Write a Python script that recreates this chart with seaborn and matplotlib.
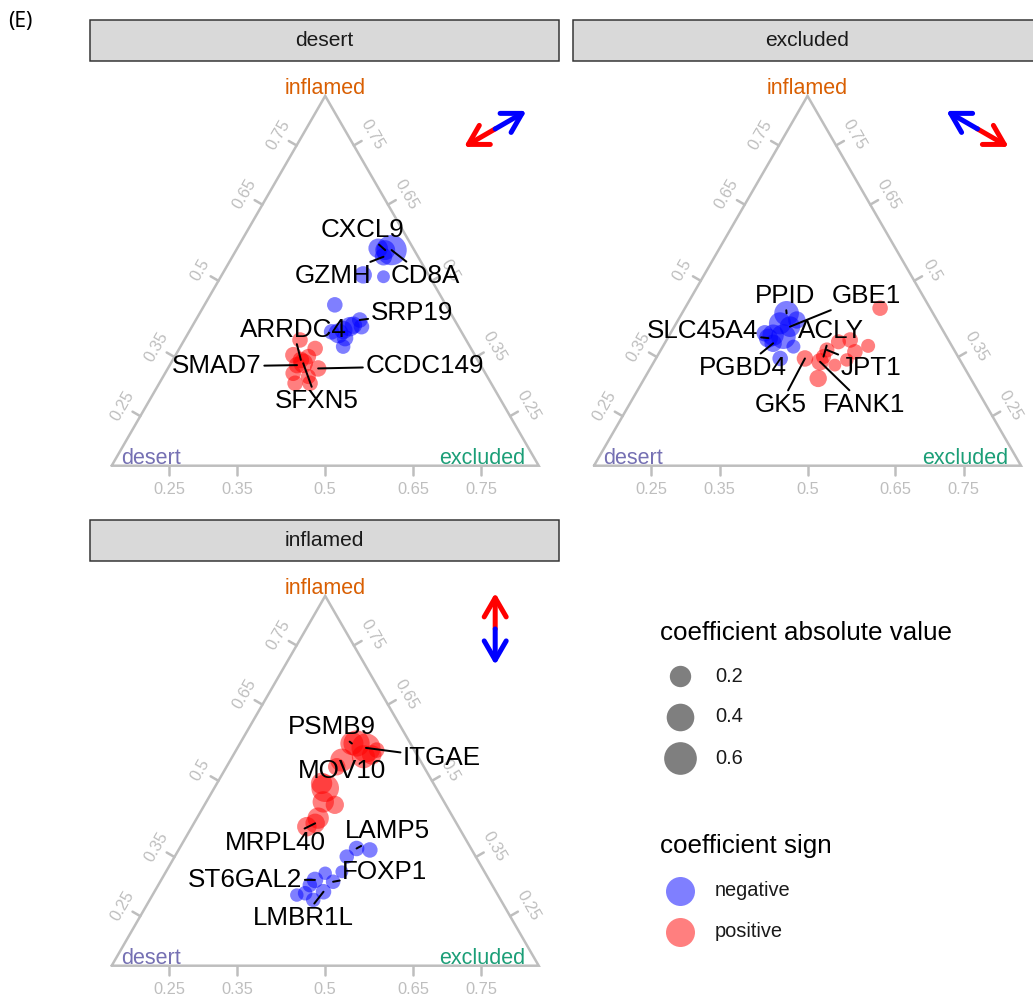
import numpy as np
import pandas as pd
import matplotlib
matplotlib.use("Agg")
import matplotlib.pyplot as plt
from matplotlib.patches import Rectangle
import seaborn as sns

# ===== DATA (ternary position: inflamed / excluded share, desert = rest) =====
desert_inflamed = [0.583, 0.588, 0.583, 0.565, 0.516, 0.511, 0.435, 0.394, 0.376, 0.376,
                   0.367, 0.358, 0.362, 0.345, 0.322, 0.380,
                   0.340, 0.317, 0.299, 0.277, 0.263, 0.250, 0.241, 0.223, 0.223, 0.272,
                   0.295, 0.286]
desert_excluded = [0.364, 0.330, 0.349, 0.354, 0.331, 0.381, 0.305, 0.384, 0.397, 0.370,
                   0.359, 0.352, 0.334, 0.374, 0.381, 0.376,
                   0.271, 0.318, 0.276, 0.310, 0.352, 0.300, 0.340, 0.318, 0.353, 0.298,
                   0.313, 0.300]
desert_coef = [0.50, 0.15, 0.16, 0.10, 0.10, 0.01, 0.06, 0.06, 0.06, 0.15,
               0.12, 0.16, 0.06, 0.08, 0.04, 0.10,
               0.06, 0.06, 0.08, 0.15, 0.08, 0.06, 0.05, 0.06, 0.06, 0.08,
               0.06, 0.08]
desert_sign = ["negative"] * 16 + ["positive"] * 12
desert_genes = ["CD8A", "", "CXCL9", "GZMH", "", "", "", "SRP19", "", "",
                "", "", "", "", "", "",
                "", "", "", "SFXN5", "CCDC149", "", "", "", "", "SMAD7",
                "", "ARRDC4"]

excluded_inflamed = [0.412, 0.394, 0.385, 0.353, 0.349, 0.345, 0.322, 0.290, 0.331, 0.376,
                     0.358,
                     0.426, 0.335, 0.340, 0.308, 0.324, 0.286, 0.272, 0.236, 0.290, 0.281,
                     0.313, 0.295]
excluded_excluded = [0.245, 0.278, 0.243, 0.243, 0.269, 0.236, 0.306, 0.291, 0.254, 0.271,
                     0.221,
                     0.457, 0.405, 0.430, 0.457, 0.480, 0.449, 0.428, 0.407, 0.349, 0.389,
                     0.389, 0.390]
excluded_coef = [0.30, 0.10, 0.22, 0.20, 0.30, 0.14, 0.03, 0.06, 0.10, 0.18,
                 0.08,
                 0.06, 0.05, 0.06, 0.06, 0.03, 0.02, 0.01, 0.10, 0.08, 0.10,
                 0.05, 0.05]
excluded_sign = ["negative"] * 11 + ["positive"] * 12
excluded_genes = ["PPID", "", "", "", "", "SLC45A4", "", "", "PGBD4", "GBE1",
                  "",
                  "", "", "", "", "", "", "", "", "GK5", "FANK1",
                  "JPT1", "ACLY"]

inflamed_inflamed = [0.601, 0.589, 0.583, 0.565, 0.556, 0.538, 0.480, 0.493, 0.443, 0.435,
                     0.399, 0.376, 0.385, 0.601, 0.570,
                     0.317, 0.313, 0.295, 0.254, 0.227, 0.250, 0.232, 0.218, 0.200, 0.191,
                     0.178, 0.196]
inflamed_excluded = [0.273, 0.301, 0.329, 0.307, 0.261, 0.258, 0.260, 0.245, 0.274, 0.305,
                     0.284, 0.269, 0.284, 0.262, 0.324,
                     0.415, 0.448, 0.403, 0.412, 0.405, 0.375, 0.360, 0.355, 0.396, 0.338,
                     0.383, 0.355]
inflamed_coef = [0.35, 0.45, 0.06, 0.25, 0.25, 0.10, 0.40, 0.20, 0.20, 0.12,
                 0.20, 0.15, 0.15, 0.25, 0.15,
                 0.06, 0.06, 0.04, 0.01, 0.04, 0.02, 0.08, 0.04, 0.06, 0.02,
                 0.04, 0.04]
inflamed_sign = ["positive"] * 15 + ["negative"] * 12
inflamed_genes = ["", "ITGAE", "", "", "MOV10", "", "", "", "", "",
                  "", "", "MRPL40", "PSMB9", "",
                  "LAMP5", "", "", "", "FOXP1", "", "ST6GAL2", "", "LMBR1L", "",
                  "", ""]

# label placement (pixel offset of label baseline-centre from its point)
desert_labels = {"CXCL9": (-22.5, -13), "GZMH": (-50.5, 26.6), "CD8A": (33.3, 33),
                 "SRP19": (52, 0), "ARRDC4": (-7.7, -23.3), "SMAD7": (-80, 8.3),
                 "CCDC149": (106.4, 4.7), "SFXN5": (13.7, 45)}
excluded_labels = {"PPID": (-1.7, -10.6), "GBE1": (76.7, -24), "SLC45A4": (-65.5, 0),
                   "ACLY": (7.2, -18.4), "PGBD4": (-30.3, 31.7), "JPT1": (44.1, 25),
                   "GK5": (-24.5, 53.4), "FANK1": (44.2, 50)}
inflamed_labels = {"PSMB9": (-20.4, -9.3), "ITGAE": (76, 17), "MOV10": (0, 18.3),
                   "MRPL40": (-40, 26.7), "LAMP5": (30.8, -10), "FOXP1": (51.7, -2.4),
                   "ST6GAL2": (-69.7, 6.7), "LMBR1L": (-20.5, 33.3)}
no_segment = ["MOV10"]

tick_pos = [0.134, 0.294, 0.5, 0.706, 0.866]
tick_labels = ["0.25", "0.35", "0.5", "0.65", "0.75"]
legend_sizes = [0.2, 0.4, 0.6]

# ===== STYLE =====
W, H = 1033, 997
S = 427.0
TH = np.sqrt(3) / 2
PAL = {"negative": "#0000FF", "positive": "#FF0000"}
VCOL = {"inflamed": "#D95F02", "desert": "#7570B3", "excluded": "#1B9E77"}
GRID = "#BEBEBE"
SIZE_MIN, SIZE_MAX, SIZE_NORM = 150, 1222, (0, 0.7)

sns.set_theme(style="white")
plt.rcParams["font.family"] = ["Liberation Sans", "DejaVu Sans"]


def to_xy(inflamed, excluded):
    inflamed = np.asarray(inflamed, float)
    excluded = np.asarray(excluded, float)
    return excluded + inflamed / 2, inflamed * TH


def size_of(v):
    return SIZE_MIN + (v - SIZE_NORM[0]) / (SIZE_NORM[1] - SIZE_NORM[0]) * (SIZE_MAX - SIZE_MIN)


fig = plt.figure(figsize=(W / 72, H / 72), dpi=72)
ov = fig.add_axes([0, 0, 1, 1])
ov.set_axis_off()

panels = [
    ("desert", desert_inflamed, desert_excluded, desert_coef, desert_sign, desert_genes,
     desert_labels, (111.7, 465.7), (90, 20)),
    ("excluded", excluded_inflamed, excluded_excluded, excluded_coef, excluded_sign,
     excluded_genes, excluded_labels, (594.0, 465.7), (573, 20)),
    ("inflamed", inflamed_inflamed, inflamed_excluded, inflamed_coef, inflamed_sign,
     inflamed_genes, inflamed_labels, (111.7, 965.7), (90, 520)),
]
vertex = {"desert": np.array([0.0, 0.0]), "excluded": np.array([1.0, 0.0]),
          "inflamed": np.array([0.5, TH])}

for name, inf, exc, coef, sign, genes, labels, (x0, yb), (sx, sy) in panels:
    # facet strip
    ov.add_patch(Rectangle((sx, sy), 469, 41, facecolor="#D9D9D9",
                           edgecolor="#333333", lw=1.5))
    ov.text(sx + 234.5, sy + 20.5, name, ha="center", va="center",
            fontsize=21, color="#1A1A1A")

    ax = fig.add_axes([x0 / W, 1 - yb / H, S / W, S * TH / H])
    ax.plot([0, 1, 0.5, 0], [0, 0, TH, 0], color=GRID, lw=2.5, clip_on=False,
            solid_joinstyle="miter")

    # ticks on the three edges
    nL = np.array([-np.sqrt(3) / 2, 0.5])
    nR = np.array([np.sqrt(3) / 2, 0.5])
    for f, lab in zip(tick_pos, tick_labels):
        ax.plot([f, f], [0, -9 / S], color=GRID, lw=2.5, clip_on=False)
        ax.text(f, -28.6 / S, lab, ha="center", va="baseline", fontsize=16.4, color=GRID)
        p = np.array([0.5 * f, TH * f])
        q = p + nL * 9 / S
        ax.plot([p[0], q[0]], [p[1], q[1]], color=GRID, lw=2.5, clip_on=False)
        t = p + nL * 21 / S
        ax.text(t[0], t[1], lab, ha="center", va="center", rotation=60,
                rotation_mode="anchor", fontsize=16.4, color=GRID)
        p = np.array([1 - 0.5 * f, TH * f])
        q = p + nR * 9 / S
        ax.plot([p[0], q[0]], [p[1], q[1]], color=GRID, lw=2.5, clip_on=False)
        t = p + nR * 21 / S
        ax.text(t[0], t[1], lab, ha="center", va="center", rotation=-60,
                rotation_mode="anchor", fontsize=16.4, color=GRID)

    # vertex names
    ax.annotate("inflamed", xy=(0.5, TH), xytext=(0, 2), textcoords="offset points",
                ha="center", va="baseline", fontsize=21.5, color=VCOL["inflamed"],
                annotation_clip=False)
    ax.annotate("desert", xy=(0, 0), xytext=(9.3, 1.7), textcoords="offset points",
                ha="left", va="baseline", fontsize=21.5, color=VCOL["desert"],
                annotation_clip=False)
    ax.annotate("excluded", xy=(1, 0), xytext=(-13, 1.7), textcoords="offset points",
                ha="right", va="baseline", fontsize=21.5, color=VCOL["excluded"],
                annotation_clip=False)

    # points
    x, y = to_xy(inf, exc)
    df = pd.DataFrame({"x": x, "y": y, "coef": coef, "sign": sign, "gene": genes})
    sns.scatterplot(data=df, x="x", y="y", hue="sign", size="coef", palette=PAL,
                    sizes=(SIZE_MIN, SIZE_MAX), size_norm=SIZE_NORM, alpha=0.5,
                    linewidth=0, legend=False, ax=ax, clip_on=False)

    # gene labels
    for gene, (dx, dy) in labels.items():
        row = df[df["gene"] == gene].iloc[0]
        kw = {}
        if gene not in no_segment:
            kw["arrowprops"] = dict(arrowstyle="-", color="black", lw=2,
                                    shrinkA=0, shrinkB=0)
        ax.annotate(gene, xy=(row["x"], row["y"]), xytext=(dx, -dy),
                    textcoords="offset points", ha="center", va="baseline",
                    fontsize=26, color="black", annotation_clip=False, **kw)

    # direction arrow (red towards this class)
    d = vertex[name] - np.array([0.5, TH / 3])
    d = d / np.linalg.norm(d)
    c = np.array([0.5 + 170 / S, TH - 33 / S])
    for sgn, col in [(1, PAL["positive"]), (-1, PAL["negative"])]:
        ax.annotate("", xy=c + sgn * d * 36 / S, xytext=c,
                    arrowprops=dict(arrowstyle="->,head_length=1.9,head_width=1.1",
                                    mutation_scale=10, lw=5, color=col,
                                    shrinkA=0, shrinkB=0),
                    annotation_clip=False)

    ax.set_xlim(0, 1)
    ax.set_ylim(0, TH)
    ax.set_axis_off()

# panel tag
ov.text(8, 22, "(E)", ha="left", va="center", fontsize=21,
        family=["Noto Sans", "DejaVu Sans"], color="black")

# legends
ov.text(660, 640, "coefficient absolute value", ha="left", va="baseline",
        fontsize=26, color="black")
for v, yy in zip(legend_sizes, [676, 716.7, 758]):
    ov.scatter(680, yy, s=size_of(v), color="black", alpha=0.5, lw=0)
    ov.text(715, yy, f"{v}", ha="left", va="center", fontsize=20, color="#1A1A1A")

ov.text(660, 853, "coefficient sign", ha="left", va="baseline", fontsize=26, color="black")
for lab, yy in zip(["negative", "positive"], [890.7, 931.7]):
    ov.scatter(680, yy, s=841, color=PAL[lab], alpha=0.5, lw=0)
    ov.text(715, yy, lab, ha="left", va="center", fontsize=20, color="#1A1A1A")

ov.set_xlim(0, W)
ov.set_ylim(H, 0)

fig.savefig("out.png", dpi=72)
